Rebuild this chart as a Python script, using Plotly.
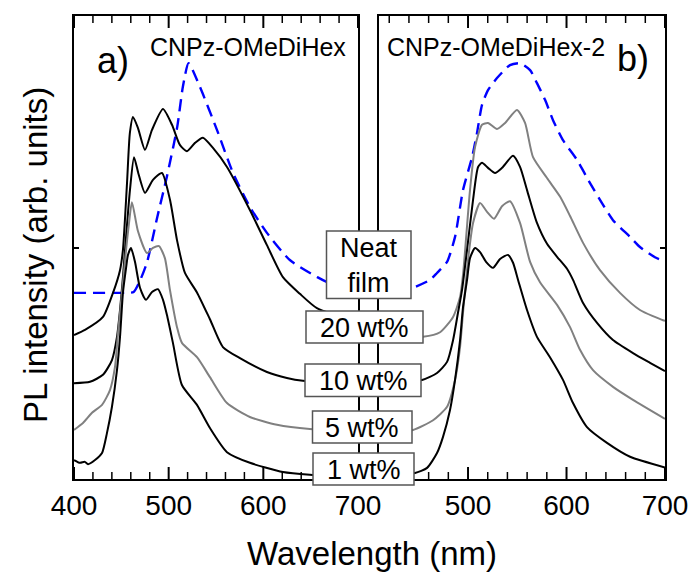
import numpy as np
import plotly.graph_objects as go

# ---------------- data (wavelength in nm, PL intensity in arb. units) ----------------
# Panel a) CNPz-OMeDiHex
A_NEAT_WL = [400, 420, 440, 454, 463, 470, 477, 488, 498, 509, 515, 521, 533, 551, 568, 586, 604, 628, 657, 670, 700]
A_NEAT_I = [40.2, 40.2, 40.2, 40.2, 40.4, 43.0, 46.7, 56.6, 65.2, 76.0, 84.7, 89.8, 84.7, 75.4, 66.1, 58.7, 53.1, 47.3, 43.6, 42.3, 40.8]

A_20_WL = [400, 411.6, 430.6, 441.2, 448.6, 451.7, 456, 459, 462.3, 467.6, 475, 482.4, 494, 503.5, 512, 519.3, 527.8, 536.2, 546.8, 561.6, 585.8, 603.8, 620.7, 638.6, 656.6, 700]
A_20_I = [31.1, 32.2, 35.0, 40.2, 45.1, 49.5, 63.9, 74.7, 78.2, 75.8, 71.1, 75.4, 79.9, 76.5, 72.1, 70.8, 72.6, 73.7, 71.5, 67.4, 58.1, 50.5, 43.6, 40.0, 36.9, 33.9]

A_10_WL = [400, 416.9, 430.6, 440.1, 445.4, 448.6, 451.7, 453.9, 459.1, 463.4, 468, 475, 483.4, 492.9, 501.4, 508.8, 517.2, 529.9, 543.6, 557.3, 575.3, 603.8, 624.9, 641.8, 700]
A_10_I = [20.7, 21.0, 22.5, 25.7, 30.7, 36.5, 43.6, 49.5, 62.4, 69.5, 66.0, 61.8, 64.6, 66.1, 60.3, 51.6, 44.5, 40.3, 34.5, 28.5, 26.1, 23.1, 21.8, 21.2, 20.7]

A_5_WL = [400, 409.5, 419, 429.6, 438, 443.3, 446.5, 450.7, 455, 458, 461.2, 467.6, 477.1, 483.4, 489.8, 496, 501.4, 508.8, 514, 529.9, 543.6, 561.6, 585.8, 614.4, 649.2, 700]
A_5_I = [10.6, 12.1, 14.3, 16.0, 19.2, 24.2, 31.5, 40.2, 49.5, 55.1, 59.8, 53.5, 48.8, 49.9, 50.3, 47.7, 40.8, 32.8, 29.4, 26.3, 22.0, 16.4, 13.4, 11.7, 10.8, 10.4]

A_1_WL = [400, 406.3, 411.6, 414.8, 422.2, 429.6, 434.8, 440.1, 445.4, 448.6, 451.7, 455, 457, 460.2, 464.4, 469.7, 476, 482.4, 488.7, 494, 498.2, 504.5, 514, 529.9, 543.6, 561.6, 585.8, 620.7, 649.2, 700]
A_1_I = [4.1, 3.5, 3.7, 3.2, 4.1, 5.6, 9.9, 15.6, 23.5, 30.7, 40.2, 45.6, 48.4, 49.9, 46.9, 41.3, 38.7, 40.4, 41.0, 38.7, 35.4, 29.4, 20.3, 16.0, 11.0, 5.8, 3.5, 1.5, 0.9, 0.4]

# Panel b) CNPz-OMeDiHex-2
B_NEAT_WL = [409.6, 430, 444.2, 461.4, 468.5, 478.7, 486.8, 494.9, 504.1, 509.1, 514.2, 520.3, 529.4, 542.6, 552.8, 563, 570, 578.2, 586.3, 596.4, 610.7, 623.9, 634, 647.2, 664.5, 674.6, 689.8, 700]
B_NEAT_I = [40.2, 40.4, 41.3, 43.0, 44.5, 46.9, 52.3, 62.4, 69.5, 74.7, 80.8, 84.0, 86.6, 89.4, 89.8, 88.3, 85.5, 81.9, 77.5, 73.2, 68.9, 63.9, 60.3, 55.9, 52.3, 50.1, 47.9, 47.0]

B_20_WL = [409.6, 430, 454.3, 471.6, 484.8, 491.9, 495, 502, 507.1, 514.2, 520.3, 529.4, 537.6, 549.7, 557.9, 566, 580.2, 593.4, 603.6, 616.8, 634, 654.3, 674.6, 698, 700]
B_20_I = [30.5, 30.6, 30.7, 31.7, 35.0, 39.3, 44.3, 62.4, 71.7, 76.5, 76.9, 75.6, 76.9, 79.7, 76.9, 69.5, 65.0, 61.0, 56.8, 51.0, 45.1, 40.2, 36.5, 34.3, 34.2]

B_10_WL = [409.6, 430, 453.3, 468.5, 478.7, 484.8, 489.8, 493.9, 499, 505.1, 510.2, 514.2, 520.3, 527.4, 534.5, 545.7, 552.8, 559.9, 570, 580.2, 590.4, 600.5, 606.6, 616.8, 631, 647.2, 667.5, 684.8, 700]
B_10_I = [21.0, 21.2, 21.4, 22.9, 25.3, 30.0, 35.9, 40.8, 49.5, 60.3, 67.4, 68.3, 67.2, 66.1, 67.2, 69.8, 67.4, 62.4, 55.3, 50.8, 48.0, 45.4, 43.0, 38.0, 33.7, 30.0, 27.2, 25.1, 23.3]

B_5_WL = [409.6, 430, 444.2, 464.5, 478.7, 486.8, 491.9, 494.9, 500, 505.1, 512.2, 519.3, 526.4, 534.5, 542.6, 552.8, 563, 573.1, 590.4, 603.6, 613.7, 626.9, 647.2, 667.5, 700]
B_5_I = [10.4, 10.5, 10.6, 12.7, 15.6, 21.4, 28.5, 35.9, 47.3, 55.3, 59.6, 57.7, 56.2, 58.9, 60.0, 55.3, 46.9, 42.5, 37.6, 32.8, 27.9, 23.5, 19.9, 17.1, 13.0]

B_1_WL = [409.6, 430, 446.2, 458.4, 468.5, 474.6, 481.7, 486.8, 491.9, 494.9, 499, 502, 507.1, 512.2, 518.3, 525.4, 532.5, 540.6, 545.7, 550.8, 559.9, 570, 583.2, 596.4, 606.6, 620.8, 641.1, 664.5, 700]
B_1_I = [1.0, 1.1, 1.3, 2.4, 5.6, 9.1, 14.9, 21.4, 30.0, 37.1, 43.0, 47.7, 49.9, 49.0, 46.9, 45.6, 47.5, 48.4, 46.7, 43.0, 36.5, 30.7, 26.3, 21.4, 16.4, 11.2, 7.8, 4.8, 2.5]

LABELS = ["Neat<br>film", "20 wt%", "10 wt%", "5 wt%", "1 wt%"]
TITLE_A = "CNPz-OMeDiHex"
TITLE_B = "CNPz-OMeDiHex-2"
X_MAJOR_STEP = 100
X_MINOR_STEP = 20
RANGE_A = [400, 700]
RANGE_B = [409.6, 700]

# ---------------- styling ----------------
W, H = 689, 572
FONT = "Arial, Liberation Sans, sans-serif"
BLACK = "#000000"
GRAY = "#808080"
BLUE = "#0000FF"
PLOT_TOP, PLOT_BOTTOM = 16, 479


def px(x):
    return x / W


def py(y):
    return 1 - y / H


fig = go.Figure()

series_a = [(A_NEAT_WL, A_NEAT_I, BLUE, "dash"), (A_20_WL, A_20_I, BLACK, "solid"),
            (A_10_WL, A_10_I, BLACK, "solid"), (A_5_WL, A_5_I, GRAY, "solid"),
            (A_1_WL, A_1_I, BLACK, "solid")]
series_b = [(B_NEAT_WL, B_NEAT_I, BLUE, "dash"), (B_20_WL, B_20_I, GRAY, "solid"),
            (B_10_WL, B_10_I, BLACK, "solid"), (B_5_WL, B_5_I, GRAY, "solid"),
            (B_1_WL, B_1_I, BLACK, "solid")]

for axes, series in (("x", series_a), ("x2", series_b)):
    yax = "y" if axes == "x" else "y2"
    for wl, inten, col, dash in series:
        dashed = dash == "dash"
        fig.add_trace(go.Scatter(x=wl, y=inten, mode="lines", xaxis=axes, yaxis=yax,
                                 line=dict(color=col, width=2.4 if dashed else 2,
                                           dash=("12px,7px" if dashed else dash),
                                           shape="spline", smoothing=0.6),
                                 showlegend=False, hoverinfo="skip"))

# inward x tick marks (bottom and top) drawn on hidden 0..1 overlay y axes
plot_h = PLOT_BOTTOM - PLOT_TOP
for xr, yr, rng in (("x", "y3", RANGE_A), ("x2", "y4", RANGE_B)):
    start = np.ceil(rng[0] / X_MINOR_STEP) * X_MINOR_STEP
    ticks = np.arange(start, rng[1] + 0.01, X_MINOR_STEP)
    for is_major in (True, False):
        ln = (12 if is_major else 7) / plot_h
        xs, ys = [], []
        for t in ticks:
            if (abs(t % X_MAJOR_STEP) < 1e-6) != is_major:
                continue
            xs += [t, t, None, t, t, None]
            ys += [0, ln, None, 1 - ln, 1, None]
        fig.add_trace(go.Scatter(x=xs, y=ys, mode="lines", xaxis=xr, yaxis=yr,
                                 line=dict(color=BLACK, width=2 if is_major else 1.5),
                                 showlegend=False, hoverinfo="skip", cliponaxis=False))

base_x = dict(showline=True, linecolor=BLACK, linewidth=2, mirror=True,
              tickmode="linear", tick0=400, dtick=X_MAJOR_STEP, ticks="",
              showgrid=False, zeroline=False, automargin=False,
              tickfont=dict(family=FONT, size=28, color=BLACK))
ycommon = dict(showline=True, linecolor=BLACK, linewidth=2, mirror=True, ticks="inside",
               ticklen=5, tickwidth=1.5, tickcolor=BLACK, showgrid=False, zeroline=False,
               automargin=False, range=[0, 100], tickmode="array", tickvals=[50], showticklabels=False)
yhidden = dict(range=[0, 1], visible=False, showgrid=False, zeroline=False, automargin=False)

fig.update_layout(
    width=W, height=H, margin=dict(l=0, r=0, t=0, b=0, autoexpand=False),
    paper_bgcolor="white", plot_bgcolor="white",
    xaxis=dict(domain=[px(74), px(358)], range=RANGE_A, anchor="y", **base_x),
    xaxis2=dict(domain=[px(379), px(665)], range=RANGE_B, anchor="y2", **base_x),
    yaxis=dict(domain=[py(PLOT_BOTTOM), py(PLOT_TOP)], anchor="x", side="left", **ycommon),
    yaxis2=dict(domain=[py(PLOT_BOTTOM), py(PLOT_TOP)], anchor="x2", side="right", **ycommon),
    yaxis3=dict(overlaying="y", anchor="x", **yhidden),
    yaxis4=dict(overlaying="y2", anchor="x2", **yhidden),
)

# label boxes (pixel layout)
BOXES = [(326.5, 231, 411, 298.5), (306, 311, 423, 343), (305, 364, 421, 396.5),
         (312.5, 411, 412, 443), (313, 453, 414, 485)]
for (x0, y0, x1, y1), lab in zip(BOXES, LABELS):
    fig.add_shape(type="rect", xref="paper", yref="paper", x0=px(x0), x1=px(x1), y0=py(y1), y1=py(y0),
                  line=dict(color="#555555", width=1.5), fillcolor="white", layer="above")
    fig.add_annotation(xref="paper", yref="paper", x=px((x0 + x1) / 2), y=py((y0 + y1) / 2 + 1),
                       text=lab, showarrow=False, xanchor="center", yanchor="middle",
                       font=dict(family=FONT, size=27, color=BLACK))

texts = [
    (TITLE_A, 248, 47, 25), (TITLE_B, 496, 47, 25), ("a)", 113, 60, 36), ("b)", 633, 59, 36),
]
for t, x, y, s in texts:
    fig.add_annotation(xref="paper", yref="paper", x=px(x), y=py(y), text=t, showarrow=False,
                       xanchor="center", yanchor="middle", font=dict(family=FONT, size=s, color=BLACK))

fig.add_annotation(xref="paper", yref="paper", x=px(372), y=py(553), text="Wavelength (nm)",
                   showarrow=False, xanchor="center", yanchor="middle",
                   font=dict(family=FONT, size=33, color=BLACK))
fig.add_annotation(xref="paper", yref="paper", x=px(35), y=py(255), text="PL intensity (arb. units)",
                   showarrow=False, xanchor="center", yanchor="middle", textangle=-90,
                   font=dict(family=FONT, size=33, color=BLACK))

fig.write_html("out.html")
